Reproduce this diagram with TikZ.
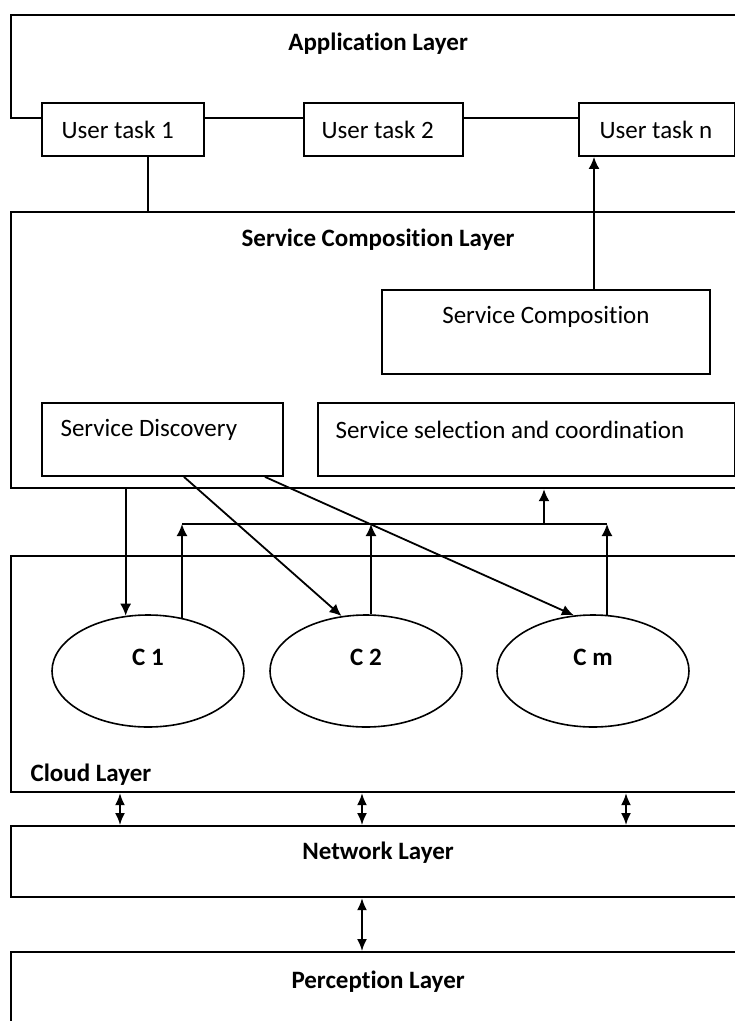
\documentclass[tikz,border=0pt]{standalone}
\usepackage{fontspec}
\setmainfont{Carlito}[Ligatures=NoCommon]
\usetikzlibrary{arrows.meta,shapes.geometric,calc}
\begin{document}
\begin{tikzpicture}[x=1pt,y=-1pt,
  font=\fontsize{25}{30}\selectfont,
  layer/.style={draw, line width=2.2pt, inner sep=0pt, anchor=north west},
  box/.style={draw, line width=1.9pt, fill=white, inner sep=0pt, anchor=north west},
  cloudnode/.style={draw, ellipse, line width=1.6pt, inner sep=0pt,
                    minimum width=192pt, minimum height=112pt},
  title/.style={font=\fontsize{25}{30}\selectfont\bfseries},
  link/.style={line width=1.8pt},
  arr/.style={line width=1.8pt, -{Latex[length=12pt,width=11pt]}},
  darr/.style={line width=1.8pt, {Latex[length=12pt,width=10pt]}-{Latex[length=12pt,width=10pt]}},
]
\useasboundingbox (0,0) rectangle (735,1021);
\fill[white] (0,0) rectangle (735,1021);
\clip (0,0) rectangle (735,1021);

% layers
\node[layer, minimum width=734pt, minimum height=103pt] (app)   at (10,14)  {};
\node[layer, minimum width=734pt, minimum height=276pt] (scl)   at (10,211) {};
\node[layer, minimum width=734pt, minimum height=236pt] (cloud) at (10,555) {};
\node[layer, minimum width=734pt, minimum height=71pt]  (net)   at (10,825) {};
\node[layer, minimum width=734pt, minimum height=110pt] (perc)  at (10,951) {};

\node[title] (appt)   at ($(app.north)+(0,30)$)   {Application Layer};
\node[title] (sclt)   at ($(scl.north)+(0,29)$)   {Service Composition Layer};
\node[title, anchor=west] (cloudt) at ($(cloud.south west)+(17,-19)$) {Cloud Layer};
\node[title] (nett)   at ($(net.north)+(0,28)$)   {Network Layer};
\node[title] (perct)  at ($(perc.north)+(0,31)$)  {Perception Layer};

% user tasks (the layer's lower edge links them)
\node[box, minimum width=162pt, minimum height=53pt] (ut1) at (41,102)  {};
\node[box, minimum width=159pt, minimum height=53pt] (ut2) at (303,102) {};
\node[box, minimum width=156pt, minimum height=53pt] (utn) at (578,102) {};
\node[anchor=west] (ut1t) at ($(ut1.west)+(17,0)$) {User task 1};
\node[anchor=west] (ut2t) at ($(ut2.west)+(15,0)$) {User task 2};
\node[anchor=west] (utnt) at ($(utn.west)+(18,0)$) {User task n};

% service composition layer boxes
\node[box, minimum width=328pt, minimum height=84pt] (sc) at (381,289) {};
\node (sct) at ($(sc.north)+(0,28)$) {Service Composition};
\node[box, minimum width=241pt, minimum height=73pt] (sd) at (41,402) {};
\node[anchor=west] (sdt) at ($(sd.north west)+(16,28)$) {Service Discovery};
\node[box, minimum width=417pt, minimum height=73pt] (ss) at (317,402) {};
\node[anchor=west] (sst) at ($(ss.north west)+(15,28)$) {Service selection and coordination};

% clouds
\node[cloudnode] (c1) at (148,671) {};
\node[cloudnode] (c2) at (366,671) {};
\node[cloudnode] (cm) at (593,671) {};
\node[title] (c1t) at ($(c1)+(0,-14)$) {C 1};
\node[title] (c2t) at ($(c2)+(0,-14)$) {C 2};
\node[title] (cmt) at ($(cm)+(0,-14)$) {C m};

% task 1 down to the composition layer
\coordinate (t1out) at ($(ut1.south west)+(107,0)$);
\draw[link] (t1out) -- (t1out |- scl.north);

% composition up to task n
\coordinate (scout) at ($(sc.north west)+(213,0)$);
\draw[arr] (scout) -- (scout |- utn.south);

% discovery down to clouds
\coordinate (sd2) at ($(sd.south west)+(143,0)$);
\coordinate (sd3) at ($(sd.south west)+(224,0)$);
\draw[arr] (c1.112 |- scl.south) -- (c1.112);
\draw[arr] (sd2) -- (c2.114);
\draw[arr] (sd3) -- (cm.109);

% clouds up to selection bus
\coordinate (bus) at (0,524);
\coordinate (u1) at (182,0);
\coordinate (u2) at (371,0);
\coordinate (u3) at (607,0);
\draw[arr] (u1 |- c1.57) -- (u1 |- bus);
\draw[arr] (u2 |- c2.85) -- (u2 |- bus);
\draw[arr] (u3 |- cm.76) -- (u3 |- bus);
\draw[link] (u1 |- bus) -- (u3 |- bus);
\coordinate (busout) at (544,524);
\draw[arr] (busout) -- (busout |- scl.south);

% cloud <-> network <-> perception
\draw[darr] ($(cloud.south west)+(110,0)$) -- ($(net.north west)+(110,0)$);
\draw[darr] ($(cloud.south west)+(352,0)$) -- ($(net.north west)+(352,0)$);
\draw[darr] ($(cloud.south west)+(616,0)$) -- ($(net.north west)+(616,0)$);
\draw[darr] ($(net.south west)+(352,0)$) -- ($(perc.north west)+(352,0)$);
\end{tikzpicture}
\end{document}
